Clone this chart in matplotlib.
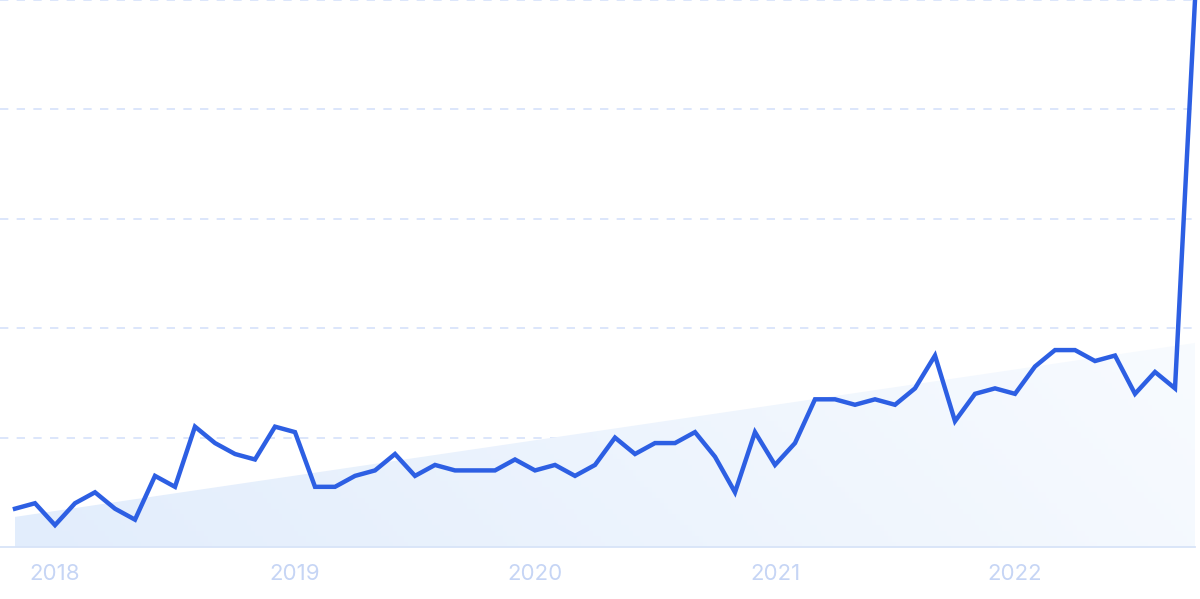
import matplotlib
matplotlib.use("Agg")
import matplotlib.pyplot as plt
import numpy as np
import pandas as pd
from matplotlib.patches import Polygon

# monthly search interest, Nov 2017 .. Oct 2022
months = pd.date_range("2017-11-01", periods=60, freq="MS")
values = [7, 8, 4, 8, 10, 7, 5, 13, 11, 22,
          19, 17, 16, 22, 21, 11, 11, 13, 14, 17,
          13, 15, 14, 14, 14, 16, 14, 15, 13, 15,
          20, 17, 19, 19, 21, 16.5, 10, 21, 15, 19,
          27, 27, 26, 27, 26, 29, 35, 23, 28, 29,
          28, 33, 36, 36, 34, 35, 28, 32, 29, 100]
trend = [5.5, 37.3]  # trend line value at first / last month
tick_years = ["2018", "2019", "2020", "2021", "2022"]

line_color = "#2d5fe3"
grid_color = "#d6e2fb"
label_color = "#c6d5f5"

fig = plt.figure(figsize=(12, 5.99), dpi=100, facecolor="white")
ax = fig.add_axes([0, 52 / 599, 1195 / 1200, 547 / 599])

x = np.arange(len(values))
ax.set_xlim(-0.75, len(values) - 1)
ax.set_ylim(0, 100)

# gradient-filled trend area
poly = Polygon([(0, 0), (0, trend[0]), (len(values) - 1, trend[1]), (len(values) - 1, 0)],
               closed=True, facecolor="none", edgecolor="none")
ax.add_patch(poly)
gx, gy = np.meshgrid(np.linspace(0, 1, 300), np.linspace(0, 1, 100))
t = np.clip(0.75 * gx + 0.35 * (1 - gy), 0, 1)
c0 = np.array([226, 237, 252]) / 255
c1 = np.array([251, 253, 255]) / 255
img = c0[None, None, :] * (1 - t[..., None]) + c1[None, None, :] * t[..., None]
im = ax.imshow(img, extent=[0, len(values) - 1, 0, 100], origin="upper",
               aspect="auto", zorder=1)
im.set_clip_path(poly)

# gridlines
for yv in [20, 40, 60, 80, 100]:
    ax.axhline(yv, color=grid_color, linestyle=(0, (5, 5)), linewidth=1.2,
               zorder=0, clip_on=False)
ax.axhline(0, color="#d8e4f8", linewidth=1.3, zorder=2, clip_on=False)

ax.plot(x, values, color=line_color, linewidth=3.2, solid_joinstyle="miter",
        zorder=3, clip_on=False)

jan_idx = [i for i, m in enumerate(months) if m.month == 1]
ax.set_xticks(jan_idx)
ax.set_xticklabels(tick_years, fontsize=16, color=label_color, family="Inter")
ax.tick_params(axis="x", length=0, pad=12)
ax.set_yticks([])
for s in ax.spines.values():
    s.set_visible(False)
ax.set_facecolor("white")

fig.savefig("out.png", dpi=100, facecolor="white")
